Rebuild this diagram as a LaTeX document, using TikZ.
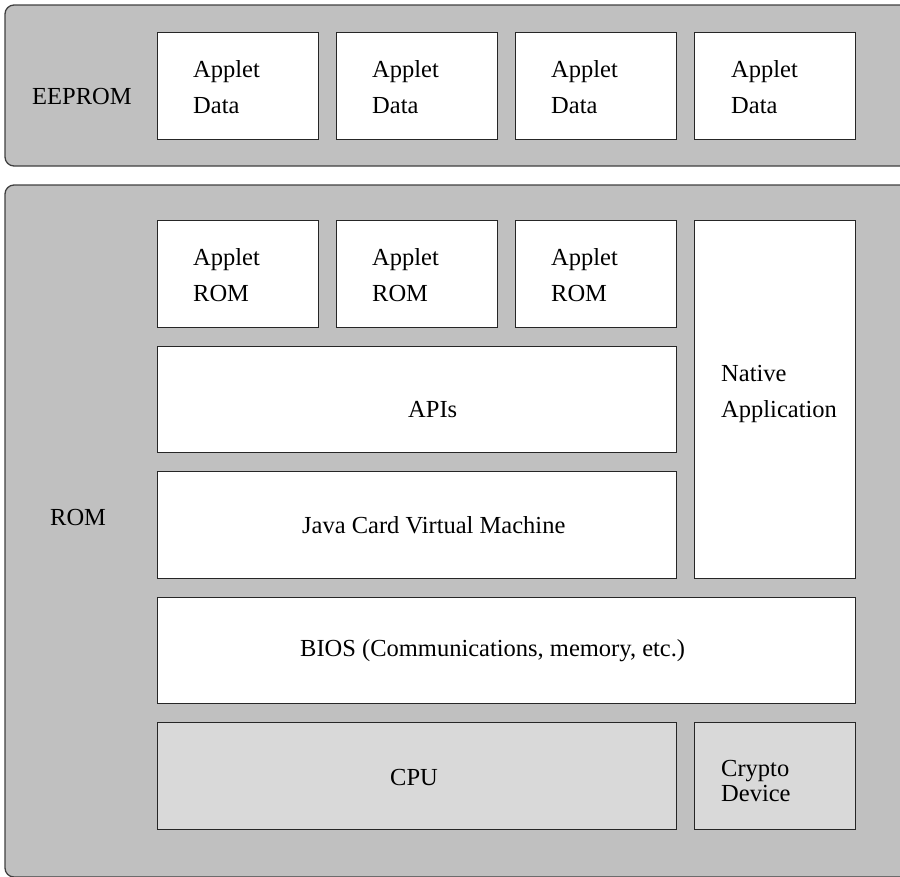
\documentclass[tikz,border=0pt]{standalone}
\usepackage{fontspec}
\setmainfont{Liberation Serif}
\begin{document}
\begin{tikzpicture}[x=1pt,y=-1pt,
  outerbox/.style={draw=black!75,line width=1.3pt,fill=outergray,rounded corners=9pt},
  whitebox/.style={draw=black!85,line width=1.2pt,fill=white,anchor=north west,inner sep=0pt},
  greybox/.style={whitebox,fill=innergray},
  lbl/.style={anchor=north west,inner sep=0pt,align=left,font=\fontsize{24.5}{36}\selectfont},
  lbltight/.style={anchor=north west,inner sep=0pt,align=left,font=\fontsize{24.5}{25}\selectfont}]
\definecolor{outergray}{RGB}{192,192,192}
\definecolor{innergray}{RGB}{217,217,217}
\useasboundingbox (0,0) rectangle (900,876);
% outer regions
\draw[outerbox] (5,5) rectangle (912,166);
\draw[outerbox] (5,185) rectangle (912,877);
% EEPROM boxes
\node[whitebox,minimum width=161pt,minimum height=107pt] (d1) at (157,32) {};
\node[whitebox,minimum width=161pt,minimum height=107pt] (d2) at (336,32) {};
\node[whitebox,minimum width=161pt,minimum height=107pt] (d3) at (515,32) {};
\node[whitebox,minimum width=161pt,minimum height=107pt] (d4) at (694,32) {};
% ROM boxes
\node[whitebox,minimum width=161pt,minimum height=107pt] (r1) at (157,220) {};
\node[whitebox,minimum width=161pt,minimum height=107pt] (r2) at (336,220) {};
\node[whitebox,minimum width=161pt,minimum height=107pt] (r3) at (515,220) {};
\node[whitebox,minimum width=161pt,minimum height=358pt] (nat) at (694,220) {};
\node[whitebox,minimum width=519pt,minimum height=106pt] (api) at (157,346) {};
\node[whitebox,minimum width=519pt,minimum height=107pt] (jcvm) at (157,471) {};
\node[whitebox,minimum width=698pt,minimum height=106pt] (bios) at (157,597) {};
\node[greybox,minimum width=519pt,minimum height=107pt] (cpu) at (157,722) {};
\node[greybox,minimum width=161pt,minimum height=107pt] (crypto) at (694,722) {};
% labels (north = first baseline - 25.2)
\node[lbl] (teeprom) at (32,78.8) {\strut EEPROM};
\node[lbl] (td1) at (193,51.8) {\strut Applet\\\strut Data};
\node[lbl] (td2) at (372,51.8) {\strut Applet\\\strut Data};
\node[lbl] (td3) at (551,51.8) {\strut Applet\\\strut Data};
\node[lbl] (td4) at (731,51.8) {\strut Applet\\\strut Data};
\node[lbl] (trom) at (50,499.8) {\strut ROM};
\node[lbl] (tr1) at (193,239.8) {\strut Applet\\\strut ROM};
\node[lbl] (tr2) at (372,239.8) {\strut Applet\\\strut ROM};
\node[lbl] (tr3) at (551,239.8) {\strut Applet\\\strut ROM};
\node[lbl] (tnat) at (721,356.5) {\strut Native\\\strut Application};
\node[lbl] (tapi) at (408,391.8) {\strut APIs};
\node[lbl] (tjcvm) at (302,507.8) {\strut Java Card Virtual Machine};
\node[lbl] (tbios) at (300,631.5) {\strut BIOS (Communications, memory, etc.)};
\node[lbl] (tcpu) at (390,759.8) {\strut CPU};
\node[lbltight] (tcrypto) at (721,759.2) {\strut Crypto\\\strut Device};
\end{tikzpicture}
\end{document}
